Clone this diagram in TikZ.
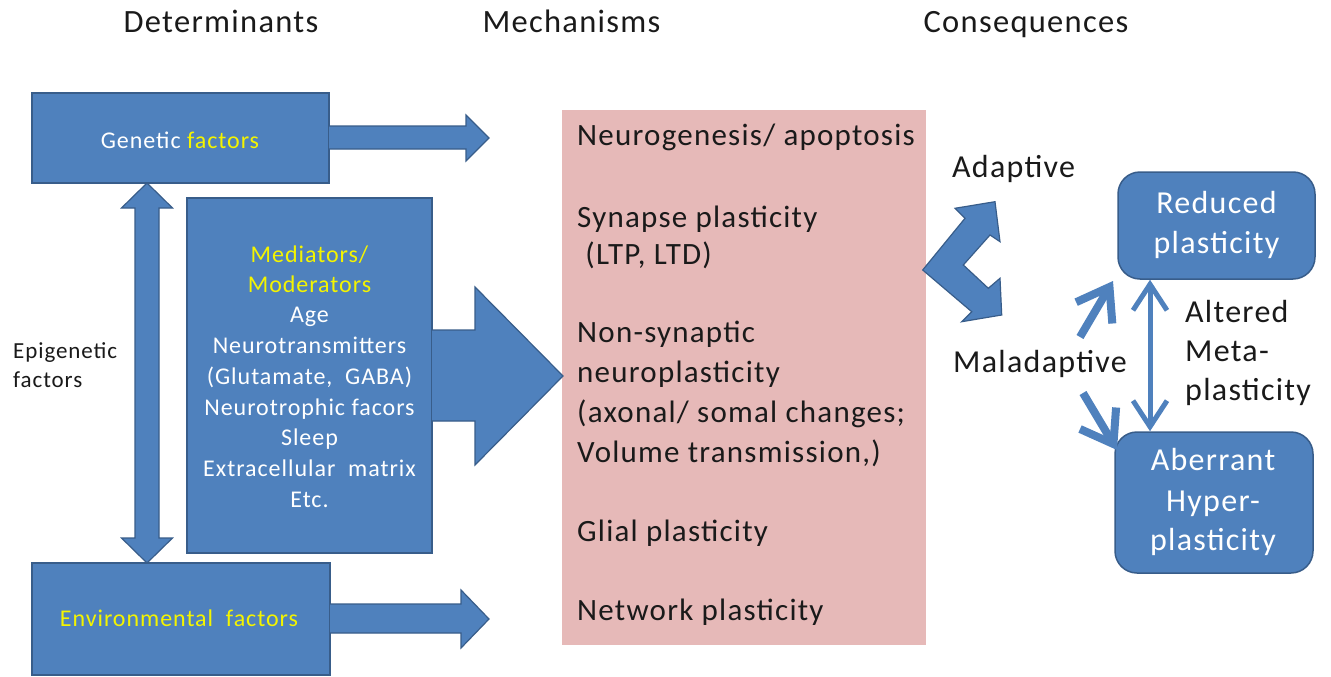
\documentclass[tikz,border=0pt]{standalone}
\usepackage{fontspec}
\setmainfont{Carlito}[LetterSpace=4]
\usetikzlibrary{arrows.meta}
\definecolor{boxblue}{HTML}{4F81BD}
\definecolor{boxedge}{HTML}{385D8A}
\definecolor{pinkfill}{HTML}{E6B9B8}
\definecolor{hl}{HTML}{F4F400}
\definecolor{ink}{HTML}{1A1A1A}
\tikzset{
  bluebox/.style={fill=boxblue,draw=boxedge,line width=1.5,inner sep=0},
  roundbox/.style={bluebox,rounded corners=22},
  blockarrow/.style={fill=boxblue,draw=boxedge,line width=1.2,line join=miter},
  hdr/.style={font=\fontsize{32.5}{38}\selectfont,text=ink,inner sep=0,anchor=base},
  bigtxt/.style={font=\fontsize{31}{38}\selectfont,text=ink,inner sep=0,anchor=base west},
  wtxt/.style={font=\fontsize{24}{30}\selectfont,text=white,inner sep=0,anchor=base},
  ytxt/.style={wtxt,text=hl},
  ktxt/.style={font=\fontsize{23}{28}\selectfont,text=ink,inner sep=0,anchor=base west},
  rwtxt/.style={font=\fontsize{32}{40}\selectfont,text=white,inner sep=0,anchor=base},
  lineconn/.style={draw=boxblue,line cap=butt},
}
\begin{document}
\begin{tikzpicture}[x=1pt,y=-1pt]
\useasboundingbox[fill=white] (0,0) rectangle (1331,677);

% headers
\node[hdr] (h1) at (221,33) {Determinants};
\node[hdr] (h2) at (571.5,33) {Mechanisms};
\node[hdr] (h3) at (1026,33) {Consequences};

% genetic factors
\node[bluebox,minimum width=297,minimum height=90] (gen) at (180.5,138) {};
\draw[blockarrow] (329,126) -- (466,126) -- (466,115) -- (489,138) -- (466,161) -- (466,149) -- (329,149);
\node[wtxt] (gent) at (180,148) {Genetic \textcolor{hl}{factors}};

% environmental factors
\node[bluebox,minimum width=298,minimum height=112] (env) at (181,619) {};
\draw[blockarrow] (330,604) -- (461,604) -- (461,590) -- (489,619) -- (461,648) -- (461,633) -- (330,633);
\node[ytxt] (envt) at (179,626) {Environmental\ \ factors};

% epigenetic double arrow
\draw[blockarrow] (147,183) -- (172.5,208) -- (159,208) -- (159,538) -- (172.5,538) -- (147,563)
  -- (121.5,538) -- (135,538) -- (135,208) -- (121.5,208) -- cycle;
\node[ktxt] (epi1) at (13,358) {Epigenetic};
\node[ktxt] (epi2) at (13,387) {factors};

% mechanisms box
\node[fill=pinkfill,minimum width=364,minimum height=535,inner sep=0] (mech) at (744,377.5) {};

% mediators box
\node[bluebox,minimum width=245,minimum height=355] (med) at (309.5,375.5) {};
\draw[blockarrow] (432,330) -- (475,330) -- (475,287) -- (563,376) -- (475,465) -- (475,421) -- (432,421);
\node[ytxt] (m1) at (309.5,262) {Mediators/};
\node[ytxt] (m2) at (309.5,292) {Moderators};
\node[wtxt] (m3) at (309.5,322) {Age};
\node[wtxt] (m4) at (309.5,353) {Neurotransmitters};
\node[wtxt] (m5) at (309.5,384) {(Glutamate,\ \ GABA)};
\node[wtxt] (m6) at (309.5,415) {Neurotrophic facors};
\node[wtxt] (m7) at (309.5,445) {Sleep};
\node[wtxt] (m8) at (309.5,476) {Extracellular\ \ matrix};
\node[wtxt] (m9) at (309.5,507) {Etc.};

% mechanisms text
\node[bigtxt] (k1) at (577,145) {Neurogenesis/ apoptosis};
\node[bigtxt] (k2) at (577,227) {Synapse plasticity};
\node[bigtxt] (k3) at (577,264) {\ (LTP, LTD)};
\node[bigtxt] (k4) at (577,342) {Non-synaptic};
\node[bigtxt] (k5) at (577,382) {neuroplasticity};
\node[bigtxt] (k6) at (577,422) {(axonal/ somal changes;};
\node[bigtxt] (k7) at (577,462) {Volume transmission,)};
\node[bigtxt] (k8) at (577,541) {Glial plasticity};
\node[bigtxt] (k9) at (577,620) {Network plasticity};

% chevron double arrow
\draw[blockarrow] (922.7,270) -- (965,218.3) -- (955,208.3) -- (995,201.7) -- (1000,241.7) -- (990,235)
  -- (963.3,265) -- (988.3,288.3) -- (1000,278.3) -- (1001.7,315) -- (961.7,321.7) -- (971.7,311.7) -- cycle;

% consequence labels
\node[bigtxt,font=\fontsize{32}{40}\selectfont] (ad) at (952,177) {Adaptive};
\node[bigtxt,font=\fontsize{32}{40}\selectfont] (mal) at (953,372) {Maladaptive};

% right boxes
\node[roundbox,minimum width=197,minimum height=107] (red) at (1216.5,225.5) {};
\node[rwtxt] (red1) at (1216.5,213) {Reduced};
\node[rwtxt] (red2) at (1216.5,253) {plasticity};
\node[roundbox,minimum width=198,minimum height=141] (ab) at (1214,502.5) {};
\node[rwtxt] (ab1) at (1213,470) {Aberrant};
\node[rwtxt] (ab2) at (1213,511) {Hyper-};
\node[rwtxt] (ab3) at (1213,550) {plasticity};

\node[bigtxt,font=\fontsize{32}{40}\selectfont] (alt1) at (1185,322) {Altered};
\node[bigtxt,font=\fontsize{32}{40}\selectfont] (alt2) at (1185,361) {Meta-};
\node[bigtxt,font=\fontsize{32}{40}\selectfont] (alt3) at (1185,400) {plasticity};

% connectors
\coordinate (ua1) at (1080,337);
\coordinate (ua2) at (1113,281);
\coordinate (la1) at (1083,393);
\coordinate (la2) at (1117,450);
\coordinate (va1) at ([xshift=-66.5]red.south);
\coordinate (va2) at ([xshift=-64]ab.north);
\draw[lineconn,line width=8,-{Straight Barb[length=30,width=42]}] (ua1) -- (ua2);
\draw[lineconn,line width=8,-{Straight Barb[length=30,width=42]}] (la1) -- (la2);
\draw[lineconn,line width=5,{Straight Barb[length=26,width=34]}-{Straight Barb[length=26,width=34]}] (va1) -- (va2);
\end{tikzpicture}
\end{document}
